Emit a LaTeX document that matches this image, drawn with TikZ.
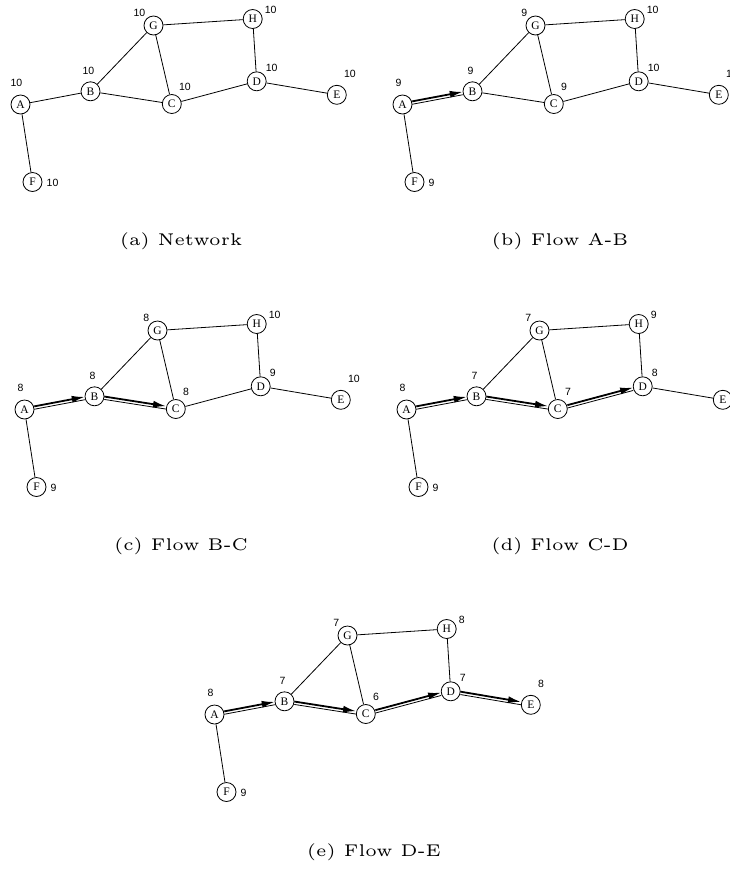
\documentclass[tikz,border=0pt]{standalone}
\usepackage{fontspec}
\newfontfamily\letterfont{Liberation Serif}
\newfontfamily\numfont{Liberation Sans}
\usepackage{tikz}
\usetikzlibrary{arrows.meta}
\tikzset{
  vertex/.style={circle,draw,line width=0.8pt,minimum size=19pt,inner sep=0pt,
    font=\letterfont\fontsize{11.5}{13}\selectfont},
  val/.style={inner sep=0pt,font=\numfont\fontsize{10.5}{12}\selectfont},
  edge/.style={line width=0.8pt},
}
% one copy of the network, #1 = prefix of the node names, #2..#9 = values at A..H
\newcommand{\netnodes}[9]{%
  \node[vertex] (#1A) at (20.5,104.5) {A};
  \node[vertex] (#1B) at (90.5,91.3) {B};
  \node[vertex] (#1C) at (171.8,104) {C};
  \node[vertex] (#1D) at (256.7,81.3) {D};
  \node[vertex] (#1E) at (336.8,94.8) {E};
  \node[vertex] (#1F) at (32.5,182) {F};
  \node[vertex] (#1G) at (153.5,25.5) {G};
  \node[vertex] (#1H) at (252.7,19) {H};
  \path (#1A) ++(-4,-22) node[val] (#1a) {#2};
  \path (#1B) ++(-2,-20) node[val] (#1b) {#3};
  \path (#1C) ++(7,-17) node[val,anchor=west] (#1c) {#4};
  \path (#1D) ++(9,-13) node[val,anchor=west] (#1d) {#5};
  \path (#1E) ++(7,-21) node[val,anchor=west] (#1e) {#6};
  \path (#1F) ++(14,1) node[val,anchor=west] (#1f) {#7};
  \path (#1G) ++(-8,-13) node[val,anchor=east] (#1g) {#8};
  \path (#1H) ++(12,-9) node[val,anchor=west] (#1h) {#9};
}
\newcommand{\flowarc}[2]{%
  \draw[flowlow] (#1) -- (#2);
  \draw[flowhigh] (#1) -- (#2);
}

\begin{document}
\begin{tikzpicture}[
    x=1pt,y=-1pt,
    flowlow/.style={line width=0.8pt,transform canvas={yshift=-1.6pt}},
    flowhigh/.style={line width=1.8pt,-{Latex[length=13pt,width=7pt]},transform canvas={yshift=1.3pt}},
    caption/.style={scale=3.4,font=\fontsize{5}{6}\selectfont}
    ]
    \useasboundingbox (0,0) rectangle (730,871);

    % (a) network
    \netnodes{n}{10}{10}{10}{10}{10}{10}{10}{10}
    \draw[edge] (nA) -- (nB) (nB) -- (nC) (nB) -- (nG) (nG) -- (nC) (nG) -- (nH)
      (nH) -- (nD) (nC) -- (nD) (nD) -- (nE) (nA) -- (nF);
    \node[caption] (capa) at (181,241) {(a) Network};

    % (b) flow A-B
    \begin{scope}[shift={(382,0)}]
      \netnodes{ab}{9}{9}{9}{10}{10}{9}{9}{10}
      \draw[edge] (abB) -- (abC) (abB) -- (abG) (abG) -- (abC) (abG) -- (abH)
        (abH) -- (abD) (abC) -- (abD) (abD) -- (abE) (abA) -- (abF);
      \flowarc{abA}{abB}
    \end{scope}
    \node[caption] (capb) at (560,241) {(b) Flow A-B};

    % (c) flow B-C
    \begin{scope}[shift={(4,305)}]
      \netnodes{bc}{8}{8}{8}{9}{10}{9}{8}{10}
      \draw[edge] (bcB) -- (bcG) (bcG) -- (bcC) (bcG) -- (bcH)
        (bcH) -- (bcD) (bcC) -- (bcD) (bcD) -- (bcE) (bcA) -- (bcF);
      \flowarc{bcA}{bcB}
      \flowarc{bcB}{bcC}
    \end{scope}
    \node[caption] (capc) at (181,546) {(c) Flow B-C};

    % (d) flow C-D
    \begin{scope}[shift={(386,305)}]
      \netnodes{cd}{8}{7}{7}{8}{9}{9}{7}{9}
      \draw[edge] (cdB) -- (cdG) (cdG) -- (cdC) (cdG) -- (cdH)
        (cdH) -- (cdD) (cdD) -- (cdE) (cdA) -- (cdF);
      \flowarc{cdA}{cdB}
      \flowarc{cdB}{cdC}
      \flowarc{cdC}{cdD}
    \end{scope}
    \node[caption] (capd) at (560,546) {(d) Flow C-D};

    % (e) flow D-E
    \begin{scope}[shift={(194,610)}]
      \netnodes{de}{8}{7}{6}{7}{8}{9}{7}{8}
      \draw[edge] (deB) -- (deG) (deG) -- (deC) (deG) -- (deH)
        (deH) -- (deD) (deA) -- (deF);
      \flowarc{deA}{deB}
      \flowarc{deB}{deC}
      \flowarc{deC}{deD}
      \flowarc{deD}{deE}
    \end{scope}
    \node[caption] (cape) at (374,852) {(e) Flow D-E};
  \end{tikzpicture}
\end{document}
